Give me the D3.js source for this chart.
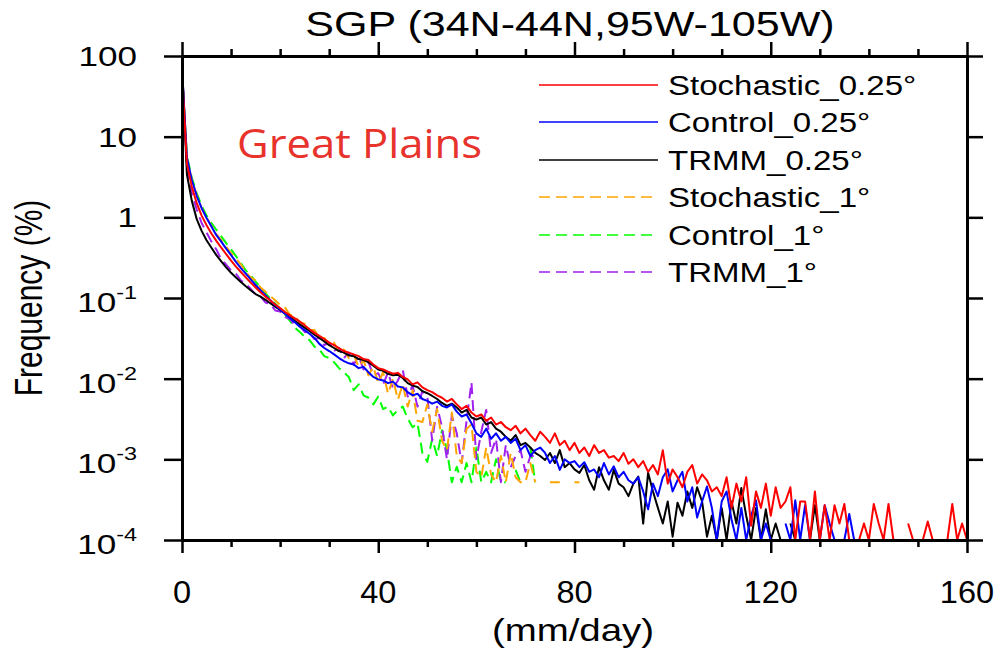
<!DOCTYPE html>
<html>
<head>
<meta charset="utf-8">
<title>SGP frequency</title>
<style>
body { margin: 0; background: #fff; }
svg text { font-family: "Liberation Sans", Arial, sans-serif; fill: #000; }
.ax .domain { stroke: #000; stroke-width: 3; }
.ax .tick line { stroke: #000; stroke-width: 2.5; }
</style>
</head>
<body>
<svg width="1000" height="650"></svg>
<script src="https://d3js.org/d3.v7.min.js"></script>
<script>
// percent frequency per 1 mm/day bin, null = no count
const stoch25 = [
63, 4.6, 2.4, 1.5, 1.05, 0.8, 0.63, 0.51, 0.42, 0.35,
0.29, 0.245, 0.21, 0.18, 0.155, 0.135, 0.118, 0.104, 0.093, 0.083,
0.075, 0.067, 0.061, 0.056, 0.051, 0.046, 0.041, 0.037, 0.034, 0.031,
0.028, 0.026, 0.024, 0.022, 0.021, 0.02, 0.019, 0.0175, 0.017, 0.015,
0.0135, 0.013, 0.0122, 0.0115, 0.0118, 0.0105, 0.0098, 0.0085, 0.009, 0.0078,
0.0072, 0.0068, 0.0062, 0.0058, 0.0052, 0.0056, 0.0048, 0.0042, 0.0046, 0.0038,
0.0034, 0.0036, 0.003, 0.0033, 0.0027, 0.0029, 0.0025, 0.0023, 0.0026, 0.0021,
0.0024, 0.002, 0.0017, 0.0022, 0.0019, 0.0016, 0.0021, 0.0015, 0.0017, 0.0013,
0.0016, 0.0012, 0.0014, 0.0011, 0.0015, 0.0012, 0.0013, 0.00105, 0.0011, 0.00095,
0.0012, 0.00088, 0.001, 0.0008, 0.00095, 0.0007, 0.00085, 0.00065, 0.0013, 0.0005,
0.00075, 0.0006, 0.00045, 0.0007, 0.00085, 0.0005, 0.00065, 0.00055, 0.0004, 0.00045,
0.00035, 0.0006, 0.00025, 0.0005, 0.0003, 0.0006, 0.00015, 0.0004, 0.00025, 0.0005,
0.0002, 0.00045, 0.00025, 0.0003, 0.00045, 0.0001, 0.0003, 0.0003, 0.0001, 0.0004,
0.0001, 0.00027, 0.0001, 0.00027, 0.00016, 0.00028, 0.0001, null, 0.0001, 0.00016,
0.0001, 0.00028, 0.00016, 0.0001, 0.00028, 0.0001, null, null, 0.00016, 0.0001,
null, 0.0001, 0.00017, 0.0001, null, null, 0.0001, 0.00028, 0.0001, 0.00016,
0.0001
];
const ctrl25 = [
70, 5.5, 2.9, 1.85, 1.3, 0.98, 0.77, 0.6, 0.5, 0.41,
0.34, 0.28, 0.235, 0.2, 0.17, 0.145, 0.125, 0.108, 0.094, 0.082,
0.072, 0.064, 0.056, 0.05, 0.044, 0.04, 0.036, 0.032, 0.027, 0.024,
0.022, 0.02, 0.018, 0.0165, 0.0155, 0.015, 0.0135, 0.014, 0.012, 0.0105,
0.0098, 0.0095, 0.0088, 0.0092, 0.008, 0.0078, 0.0068, 0.0062, 0.0065, 0.0056,
0.0053, 0.0049, 0.0052, 0.0046, 0.0044, 0.0048, 0.0039, 0.0034, 0.0036, 0.0028,
0.0021, 0.0019, 0.0024, 0.0018, 0.0021, 0.0017, 0.0019, 0.0016, 0.0018, 0.0013,
0.0015, 0.0011, 0.0013, 0.0014, 0.0012, 0.0009, 0.0011, 0.00074, 0.001, 0.0009,
0.00095, 0.0008, 0.00092, 0.0007, 0.00075, 0.0006, 0.0009, 0.00065, 0.00082, 0.0006,
0.0007, 0.00055, 0.0005, 0.0006, 0.0004, 0.00024, 0.0005, 0.00035, 0.0006, 0.00075,
0.0004, 0.00055, 0.0007, 0.0003, 0.00045, 0.00019, 0.0003, 0.00046, 0.00025, 0.0001,
0.0003, 0.0004, 0.00018, 0.0001, 0.00025, 0.0001, 0.0002, 0.00031, 0.0001, 0.00016,
0.0001, 0.0001, null, 0.00016, 0.0001, 0.00031, 0.0001, 0.00027, 0.0001, null,
0.0001, 0.00027, 0.00016, 0.0001, null, 0.0001, 0.00021, 0.0001, null, null,
null, 0.0001, 0.0001, null, null, null, null, null, 0.0001, 0.0001,
null, null, 0.0001, 0.0001, null, null, null, null, null, null,
null
];
const trmm25 = [
82, 3.4, 1.6, 0.95, 0.68, 0.52, 0.42, 0.34, 0.285, 0.24,
0.205, 0.18, 0.158, 0.14, 0.125, 0.112, 0.104, 0.095, 0.086, 0.078,
0.071, 0.064, 0.058, 0.052, 0.047, 0.043, 0.039, 0.035, 0.032, 0.029,
0.026, 0.024, 0.022, 0.021, 0.0195, 0.019, 0.0175, 0.017, 0.016, 0.0145,
0.013, 0.0125, 0.0115, 0.011, 0.0112, 0.0102, 0.0088, 0.0082, 0.0079, 0.007,
0.0066, 0.0061, 0.0056, 0.005, 0.0046, 0.0049, 0.0044, 0.0038, 0.0041, 0.0033,
0.0031, 0.0033, 0.0027, 0.0029, 0.0024, 0.0022, 0.0019, 0.0017, 0.002, 0.0015,
0.0016, 0.0014, 0.0012, 0.0011, 0.00098, 0.0012, 0.0009, 0.0013, 0.0008, 0.0009,
0.00075, 0.00068, 0.00085, 0.00055, 0.00042, 0.0008, 0.00055, 0.00042, 0.00074, 0.0005,
0.00045, 0.00035, 0.0005, 0.00061, 0.00016, 0.00068, 0.0004, 0.00025, 0.00016, 0.0003,
0.00011, 0.00029, 0.0002, 0.0004, 0.00025, 0.00045, 0.0003, 0.00011, 0.0002, 0.0001,
0.00025, 0.0001, 0.0003, 0.00016, 0.00044, 0.0002, 0.0001, 0.00025, 0.0001, 0.00024,
0.0001, 0.00016, 0.0001, null, 0.00016, 0.0001, null, 0.0001, 0.0001, 0.00027,
0.0001, null, null, null, null, null, null, null, 0.0001, 0.0001,
null, null, null, 0.0001, 0.0001, null, null, null, null, null,
null, 0.0001, 0.0001, null, null, 0.0001, 0.0001, null, null, null,
null
];
const stoch1 = [
68, 5.4, 2.9, 1.9, 1.3, 1.0, 0.78, 0.62, 0.52, 0.43,
0.36, 0.31, 0.26, 0.21, 0.18, 0.165, 0.135, 0.12, 0.105, 0.094,
0.082, 0.076, 0.062, 0.06, 0.05, 0.048, 0.04, 0.04, 0.032, 0.032,
0.026, 0.028, 0.021, 0.023, 0.018, 0.02, 0.014, 0.017, 0.011, 0.014,
0.0089, 0.012, 0.0065, 0.01, 0.0055, 0.0085, 0.0045, 0.0072, 0.003, 0.0029,
0.0048, 0.0022, 0.0042, 0.0017, 0.0013, 0.0038, 0.0011, 0.0009, 0.0024, 0.0027,
0.0007, 0.0006, 0.0014, 0.00065, 0.00052, 0.0011, 0.00052, 0.0012, 0.0006, 0.00052,
0.00052, 0.0009, 0.00052, null, null, 0.00052, 0.00052, 0.00052, null, null,
0.00052, 0.00052
];
const ctrl1 = [
60, 5.8, 3.1, 2.0, 1.4, 1.05, 0.85, 0.7, 0.58, 0.48,
0.4, 0.33, 0.27, 0.22, 0.19, 0.16, 0.135, 0.115, 0.098, 0.085,
0.073, 0.062, 0.052, 0.043, 0.038, 0.033, 0.03, 0.025, 0.023, 0.019,
0.018, 0.016, 0.0135, 0.012, 0.0105, 0.0072, 0.0085, 0.0062, 0.0058, 0.0048,
0.006, 0.0042, 0.0045, 0.0035, 0.0041, 0.0045, 0.0032, 0.0025, 0.0028, 0.0012,
0.00093, 0.0018, 0.0011, 0.0023, 0.0013, 0.00052, 0.00081, 0.00052, 0.0009, 0.00052,
0.0014, 0.00052, 0.0007, 0.00052, 0.001, 0.00052, 0.00052, null, 0.00074, 0.00052,
null, 0.0014, 0.00052
];
const trmm1 = [
75, 4, 2.0, 1.25, 0.85, 0.65, 0.5, 0.4, 0.3, 0.26,
0.22, 0.2, 0.165, 0.15, 0.13, 0.11, 0.105, 0.088, 0.085, 0.07,
0.068, 0.058, 0.055, 0.046, 0.045, 0.038, 0.037, 0.031, 0.032, 0.026,
0.028, 0.022, 0.024, 0.018, 0.021, 0.015, 0.019, 0.013, 0.016, 0.011,
0.0117, 0.0085, 0.012, 0.0075, 0.0095, 0.0128, 0.006, 0.0082, 0.0045, 0.007,
0.006, 0.0017, 0.0045, 0.0025, 0.001, 0.0035, 0.0021, 0.0009, 0.003, 0.009,
0.001, 0.0022, 0.0041, 0.0012, 0.0018, 0.00052, 0.0015, 0.0008, 0.0011, 0.0013,
0.0007, 0.0011, 0.0011, 0.0011
];

const seriesNames = ['Stochastic_0.25°', 'Control_0.25°', 'TRMM_0.25°', 'Stochastic_1°', 'Control_1°', 'TRMM_1°'];
const seriesData = [stoch25, ctrl25, trmm25, stoch1, ctrl1, trmm1];
const seriesColors = ['#ff0000', '#0000ff', '#000000', '#ffa500', '#00ff00', '#a020f0'];
const seriesDash = [null, null, null, '11,6', '11,6', '11,6'];

const xTickVals = [0, 40, 80, 120, 160];
const xTickLabels = ['0', '40', '80', '120', '160'];
const yTickVals = [100, 10, 1, 0.1, 0.01, 0.001, 0.0001];
const yTickBase = ['100', '10', '1', '10', '10', '10', '10'];
const yTickExp = ['', '', '', '-1', '-2', '-3', '-4'];

const L = 182, R = 967, T = 56, B = 540;
const svg = d3.select('svg');
const x = d3.scaleLinear([0, 160], [L, R]);
const y = d3.scaleLog([0.0001, 100], [B, T]);

svg.append('defs').append('clipPath').attr('id', 'plot')
  .append('rect').attr('x', L).attr('y', T).attr('width', R - L).attr('height', B - T);

// curves: dashed 1 deg first, red last on top
const order = [4, 5, 3, 2, 1, 0];
const gl = svg.append('g').attr('clip-path', 'url(#plot)');
order.forEach(i => {
  const line = d3.line()
    .defined(d => d != null)
    .x((d, j) => x(j))
    .y(d => y(d));
  gl.append('path')
    .attr('fill', 'none')
    .attr('stroke', seriesColors[i])
    .attr('stroke-width', 2)
    .attr('stroke-linejoin', 'round')
    .attr('stroke-dasharray', seriesDash[i])
    .attr('d', line(seriesData[i]));
});

// axes, all ticks outward
const minor = d3.range(0, 161, 10).filter(v => !xTickVals.includes(v));
svg.append('g').attr('class', 'ax').attr('transform', `translate(0,${B})`)
  .call(d3.axisBottom(x).tickValues(xTickVals).tickSize(13).tickSizeOuter(0).tickFormat(''));
svg.append('g').attr('class', 'ax').attr('transform', `translate(0,${B})`)
  .call(d3.axisBottom(x).tickValues(minor).tickSize(7).tickSizeOuter(0).tickFormat(''));
svg.append('g').attr('class', 'ax').attr('transform', `translate(0,${T})`)
  .call(d3.axisTop(x).tickValues(xTickVals).tickSize(14).tickSizeOuter(0).tickFormat(''));
svg.append('g').attr('class', 'ax').attr('transform', `translate(0,${T})`)
  .call(d3.axisTop(x).tickValues(minor).tickSize(7).tickSizeOuter(0).tickFormat(''));
svg.append('g').attr('class', 'ax').attr('transform', `translate(${L},0)`)
  .call(d3.axisLeft(y).tickValues(yTickVals).tickSize(18).tickSizeOuter(0).tickFormat(''));
svg.append('g').attr('class', 'ax').attr('transform', `translate(${R},0)`)
  .call(d3.axisRight(y).tickValues(yTickVals).tickSize(16).tickSizeOuter(0).tickFormat(''));

// text is drawn a little wider than tall, as in the source figure
function stext(str, px, py, size, anchor, sx) {
  return svg.append('text')
    .attr('transform', `translate(${px},${py}) scale(${sx},1)`)
    .attr('text-anchor', anchor)
    .style('font-size', size + 'px')
    .text(str);
}

xTickVals.forEach((v, i) => stext(xTickLabels[i], x(v), 603, 31, 'middle', 1.05));

yTickVals.forEach((v, i) => {
  const t = svg.append('text')
    .attr('transform', `translate(137,${y(v) + (yTickExp[i] ? 14 : 10)}) scale(1.3,1)`)
    .attr('text-anchor', 'end')
    .style('font-size', '27px');
  t.append('tspan').text(yTickBase[i]);
  if (yTickExp[i]) {
    t.append('tspan').attr('dy', -13).style('font-size', '18px').text(yTickExp[i]);
  }
});

stext('SGP (34N-44N,95W-105W)', 570, 36, 35, 'middle', 1.23);
stext('(mm/day)', 573, 641, 32, 'middle', 1.2);

svg.append('text')
  .attr('transform', 'translate(42,298) scale(1.3,1) rotate(-90)')
  .attr('text-anchor', 'middle')
  .style('font-size', '30px')
  .text('Frequency (%)');

svg.append('text')
  .attr('x', 237).attr('y', 158)
  .attr('textLength', 245).attr('lengthAdjust', 'spacingAndGlyphs')
  .style('font-family', '"Open Sans", Lato, sans-serif')
  .style('font-size', '40px')
  .style('fill', '#e8322c')
  .text('Great Plains');

// legend
const rowY = [85, 122, 160, 197, 235, 272];
seriesNames.forEach((name, i) => {
  svg.append('line')
    .attr('x1', 539).attr('x2', 658)
    .attr('y1', rowY[i]).attr('y2', rowY[i])
    .attr('stroke', seriesColors[i])
    .attr('stroke-width', 1.6)
    .attr('stroke-dasharray', seriesDash[i]);
  stext(name, 668, rowY[i] + 10, 28, 'start', 1.18);
});
</script>
</body>
</html>
